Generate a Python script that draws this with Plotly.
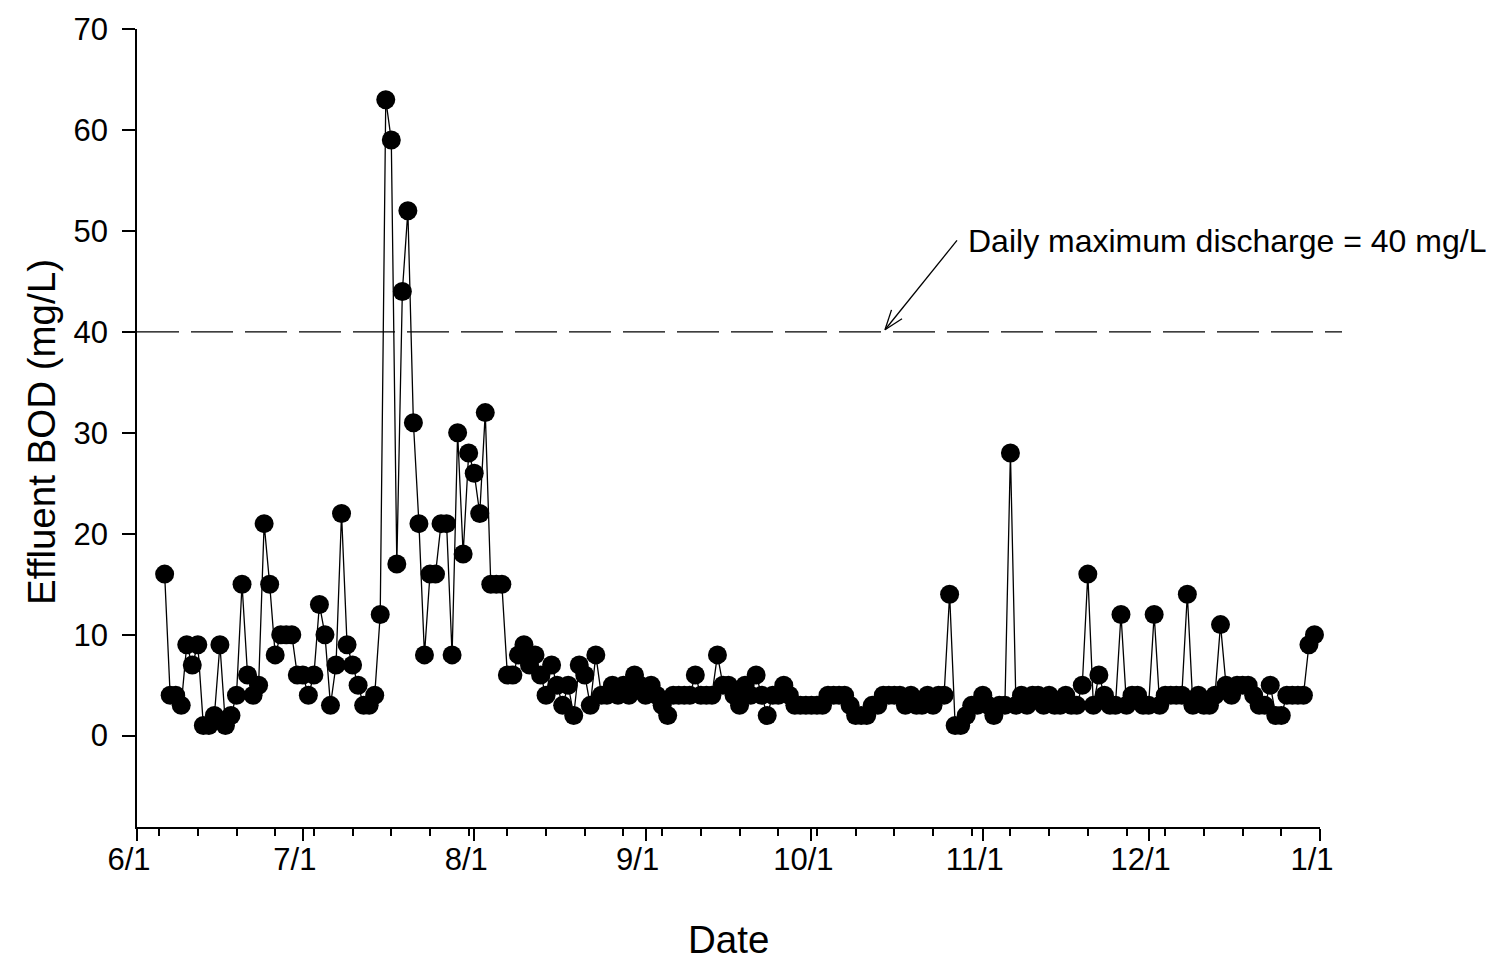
import plotly.graph_objects as go
import pandas as pd

# ---------------- data (daily effluent BOD, mg/L) ----------------
START_DATE = "2000-06-06"
bod_jun = [16, 4, 4, 3, 9, 7, 9, 1, 1, 2, 9, 1, 2, 4, 15, 6, 4, 5, 21, 15, 8, 10, 10, 10, 6]
bod_jul = [6, 4, 6, 13, 10, 3, 7, 22, 9, 7, 5, 3, 3, 4, 12, 63, 59, 17, 44, 52, 31, 21, 8, 16, 16,
           21, 21, 8, 30, 18, 28]
bod_aug = [26, 22, 32, 15, 15, 15, 6, 6, 8, 9, 7, 8, 6, 4, 7, 5, 3, 5, 2, 7, 6, 3, 8, 4, 4, 5, 4,
           5, 4, 6, 5]
bod_sep = [4, 5, 4, 3, 2, 4, 4, 4, 4, 6, 4, 4, 4, 8, 5, 5, 4, 3, 5, 4, 6, 4, 2, 4, 4, 5, 4, 3, 3, 3]
bod_oct = [3, 3, 3, 4, 4, 4, 4, 3, 2, 2, 2, 3, 3, 4, 4, 4, 4, 3, 4, 3, 3, 4, 3, 4, 4, 14, 1, 1, 2,
           3, 3]
bod_nov = [4, 3, 2, 3, 3, 28, 3, 4, 3, 4, 4, 3, 4, 3, 3, 4, 3, 3, 5, 16, 3, 6, 4, 3, 3, 12, 3, 4, 4, 3]
bod_dec = [3, 12, 3, 4, 4, 4, 4, 14, 3, 4, 3, 3, 4, 11, 5, 4, 5, 5, 5, 4, 3, 3, 5, 2, 2, 4, 4, 4, 4,
           9, 10]

bod = bod_jun + bod_jul + bod_aug + bod_sep + bod_oct + bod_nov + bod_dec
dates = pd.date_range(START_DATE, periods=len(bod), freq="D")

month_ticks = ["2000-06-01", "2000-07-01", "2000-08-01", "2000-09-01", "2000-10-01",
               "2000-11-01", "2000-12-01", "2001-01-01"]
month_labels = ["6/1", "7/1", "8/1", "9/1", "10/1", "11/1", "12/1", "1/1"]
y_ticks = [0, 10, 20, 30, 40, 50, 60, 70]
DISCHARGE_LIMIT = 40
LIMIT_TEXT = "Daily maximum discharge = 40 mg/L"

# ---------------- layout geometry ----------------
W, H = 1495, 961
L, R, T, B = 137, 175, 23, 134
PW, PH = W - L - R, H - T - B
Y_MIN, Y_MAX = -9.05, 70
FONT = "Liberation Sans, Arial, Helvetica, sans-serif"


def px(x):
    return (x - L) / PW


def py(y):
    return (H - B - y) / PH


limit_paper = (DISCHARGE_LIMIT - Y_MIN) / (Y_MAX - Y_MIN)

fig = go.Figure()
fig.add_trace(go.Scatter(
    x=dates, y=bod, mode="lines+markers",
    line=dict(color="black", width=1.3),
    marker=dict(color="black", size=19, line=dict(width=0)),
    cliponaxis=False, showlegend=False,
))

line_style = dict(color="black", width=1.3)
shapes = [
    dict(type="line", xref="paper", yref="paper", x0=0, x1=px(1342),
         y0=limit_paper, y1=limit_paper, line=dict(color="black", width=1.3, dash="42px,12px")),
    dict(type="line", xref="paper", yref="paper", x0=px(957), y0=py(236), x1=px(885), y1=py(326),
         line=line_style),
    dict(type="line", xref="paper", yref="paper", x0=px(885), y0=py(326), x1=px(891.5), y1=py(306),
         line=line_style),
    dict(type="line", xref="paper", yref="paper", x0=px(885), y0=py(326), x1=px(902), y1=py(315),
         line=line_style),
]

annotations = [
    dict(text=LIMIT_TEXT, xref="paper", yref="paper", x=px(966), y=py(237),
         xanchor="left", yanchor="middle", showarrow=False,
         font=dict(family=FONT, size=32, color="black")),
    dict(text="Date", xref="paper", yref="paper", x=0.5, y=py(940),
         xanchor="center", yanchor="middle", showarrow=False,
         font=dict(family=FONT, size=38.5, color="black")),
    dict(text="Effluent BOD (mg/L)", xref="paper", yref="paper", x=px(42), y=py(429),
         xanchor="center", yanchor="middle", showarrow=False, textangle=-90,
         font=dict(family=FONT, size=38.5, color="black")),
]

fig.update_layout(
    width=W, height=H,
    margin=dict(l=L, r=R, t=T, b=B, pad=0),
    paper_bgcolor="white", plot_bgcolor="white",
    font=dict(family=FONT, size=31, color="black"),
    shapes=shapes, annotations=annotations,
    showlegend=False,
)

fig.update_xaxes(
    type="date", range=["2000-06-01", "2001-01-01"],
    tickvals=month_ticks, ticktext=month_labels,
    showline=True, linecolor="black", linewidth=1.5,
    ticks="outside", ticklen=12, tickwidth=1.5, tickcolor="black",
    showgrid=False, zeroline=False, mirror=False,
    tickfont=dict(family=FONT, size=31, color="black"),
    ticklabelstandoff=-8, ticklabelshift=-8,
    minor=dict(ticks="outside", ticklen=7, tickwidth=1.5, tickcolor="black",
               dtick=7 * 86400000, tick0="2000-06-05", showgrid=False),
)
fig.update_yaxes(
    range=[Y_MIN, Y_MAX], tickvals=y_ticks,
    showline=True, linecolor="black", linewidth=1.5,
    ticks="outside", ticklen=13, tickwidth=1.5, tickcolor="black",
    showgrid=False, zeroline=False,
    tickfont=dict(family=FONT, size=31, color="black"),
    ticklabelstandoff=8,
)

fig.write_html("out.html")
